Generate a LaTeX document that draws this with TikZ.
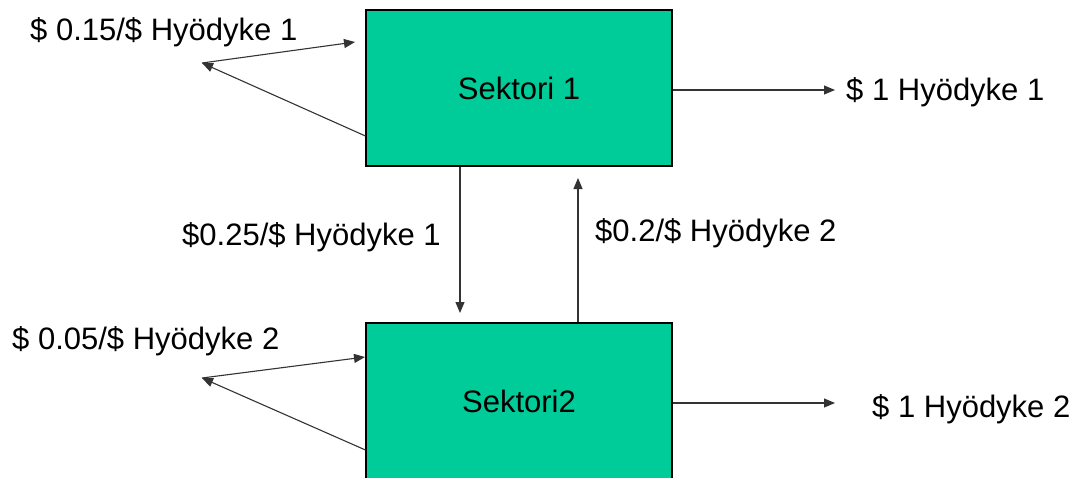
\documentclass[tikz,border=0pt]{standalone}
\usepackage{fontspec}
\setmainfont{Liberation Sans}
\usetikzlibrary{arrows.meta}
\definecolor{sector}{HTML}{00CC99}
\definecolor{edge}{HTML}{333333}
\tikzset{
  sectorbox/.style={draw=black, line width=1.1pt, fill=sector, minimum width=306pt,
    minimum height=156pt, inner sep=0pt, font=\fontsize{31}{36}\selectfont},
  flow/.style={draw=edge, line width=1.1pt, -{Triangle[length=11pt,width=9pt]}},
  lbl/.style={inner sep=0pt, anchor=base west, font=\fontsize{31}{36}\selectfont}
}
\begin{document}
\begin{tikzpicture}[x=1pt, y=-1pt]
\useasboundingbox (0,0) rectangle (1082,477);
\begin{scope}
\clip (0,0) rectangle (1082,477);
% the two sectors
\node[sectorbox] (s1) at (519,88) {Sektori 1};
\node[sectorbox] (s2) at (519,401) {Sektori2};
\end{scope}

% own-use loops on the left
\coordinate (v1) at (202,63);
\coordinate (t1) at (355,42);
\coordinate (v2) at (202,378);
\coordinate (t2) at (365,357);
\draw[flow] (s1.west |- 0,136) -- (v1);
\draw[flow] (v1) -- (t1);
\draw[flow] (s2.west |- 0,450) -- (v2);
\draw[flow] (v2) -- (t2);

% deliveries between the sectors
\coordinate (d1) at (460,313);
\coordinate (u1) at (578,178);
\draw[flow] (s1.south -| d1) -- (d1);
\draw[flow] (s2.north -| u1) -- (u1);

% final output
\coordinate (o1) at (835,90);
\coordinate (o2) at (835,403);
\draw[flow] (s1.east |- o1) -- (o1);
\draw[flow] (s2.east |- o2) -- (o2);

% labels
\node[lbl] (l1) at (30,40) {\$ 0.15/\$ Hyödyke 1};
\node[lbl] (l2) at (12,349) {\$ 0.05/\$ Hyödyke 2};
\node[lbl] (l3) at (182,245) {\$0.25/\$ Hyödyke 1};
\node[lbl] (l4) at (595,241) {\$0.2/\$ Hyödyke 2};
\node[lbl] (l5) at (846,100) {\$ 1 Hyödyke 1};
\node[lbl] (l6) at (872,417) {\$ 1 Hyödyke 2};
\end{tikzpicture}
\end{document}
